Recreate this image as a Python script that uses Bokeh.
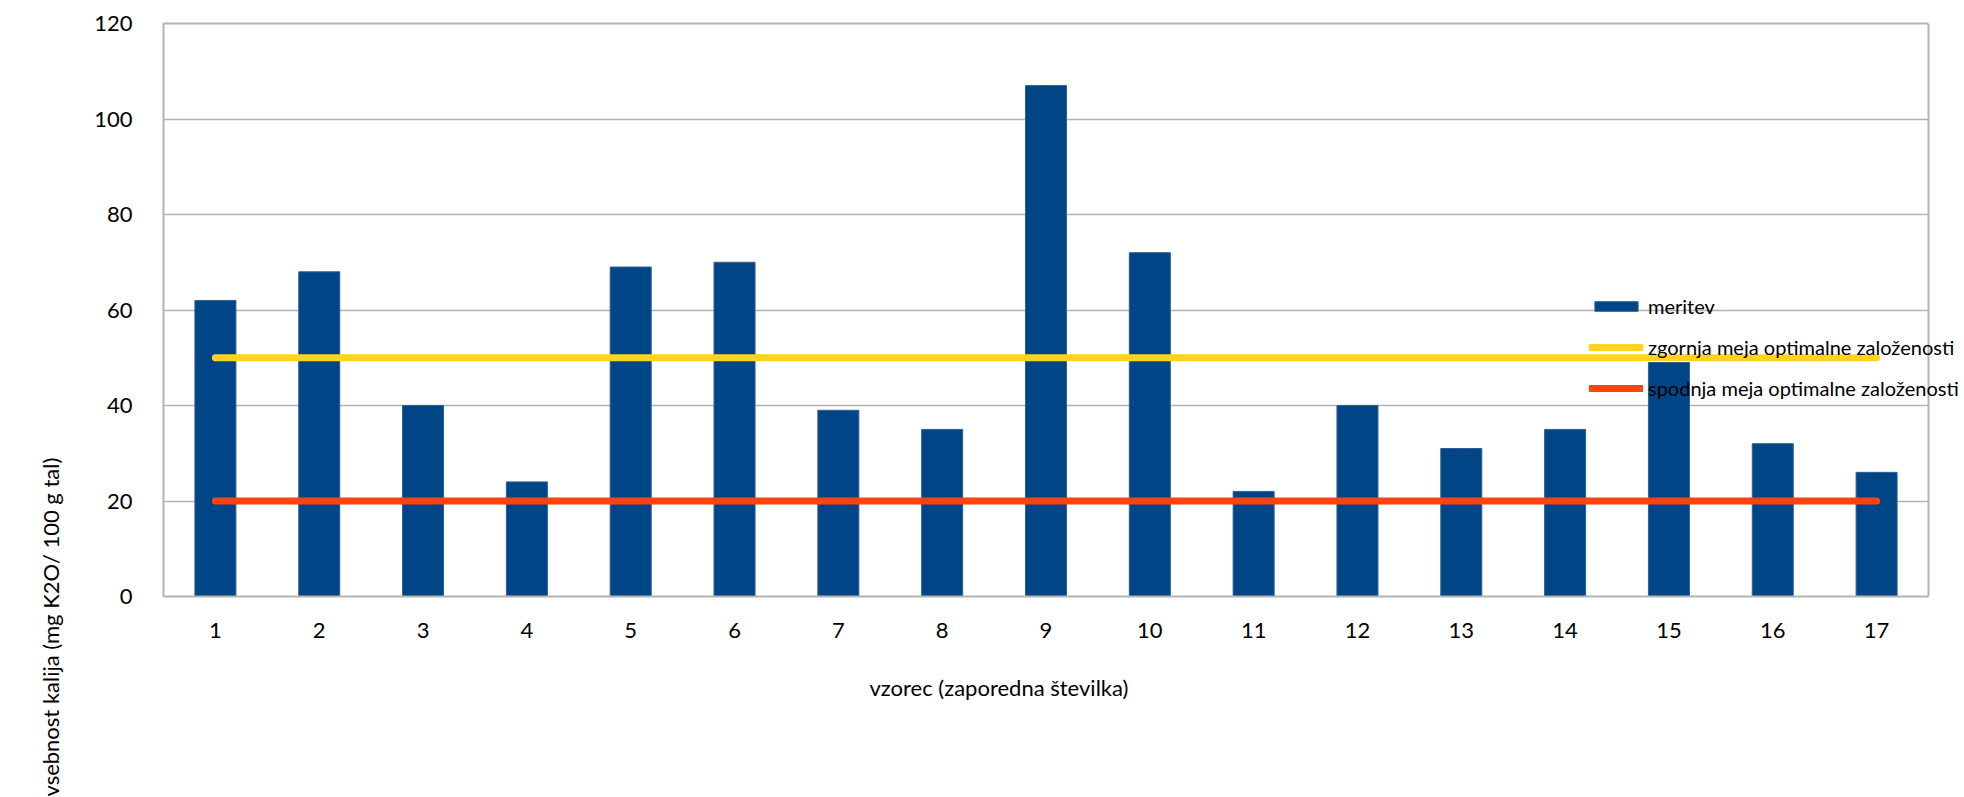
from bokeh.plotting import figure
from bokeh.models import (ColumnDataSource, Range1d, SingleIntervalTicker, FixedTicker,
                          LinearAxis, Legend, LegendItem, Span, Title)
from bokeh.embed import file_html
from bokeh.resources import INLINE

# Sample numbers and measured potassium content (mg K2O / 100 g soil)
samples = [1, 2, 3, 4, 5, 6, 7, 8, 9, 10, 11, 12, 13, 14, 15, 16, 17]
meritev = [62, 68, 40, 24, 69, 70, 39, 35, 107, 72, 22, 40, 31, 35, 49, 32, 26]
# Upper and lower limit of optimal supply
zgornja = [50, 50, 50, 50, 50, 50, 50, 50, 50, 50, 50, 50, 50, 50, 50, 50, 50]
spodnja = [20, 20, 20, 20, 20, 20, 20, 20, 20, 20, 20, 20, 20, 20, 20, 20, 20]
series_names = ["meritev", "zgornja meja optimalne založenosti",
                "spodnja meja optimalne založenosti"]
x_title = "vzorec (zaporedna številka)"
y_title = "vsebnost kalija (mg K2O/ 100 g tal)"
y_ticks_step = 20

FONT = "Lato"
BLUE = "#004586"
YELLOW = "#ffd320"
ORANGE = "#ff420e"
GRID = "#b3b3b3"

LEFT, TOP, BOTTOM, W, H = 163, 23, 201, 1964, 797
PLOT_RIGHT = 1928                      # right edge of the boxed plot area
unit = (PLOT_RIGHT - LEFT) / len(samples)
x_lo = samples[0] - 0.5
x_hi = samples[-1] + 0.5
# the frame runs on to the page edge so the legend captions are not clipped
x_end = x_hi + (W - PLOT_RIGHT) / unit

src = ColumnDataSource(dict(x=samples, meritev=meritev, zgornja=zgornja, spodnja=spodnja))

p = figure(width=W, height=H, output_backend="svg", toolbar_location=None,
           x_range=Range1d(x_lo, x_end), y_range=Range1d(0, 120),
           min_border_left=LEFT, min_border_right=0, min_border_top=TOP,
           min_border_bottom=BOTTOM)
p.outline_line_color = None
p.background_fill_color = "white"
p.border_fill_color = "white"

bars = p.vbar(x="x", top="meritev", width=0.395, source=src, fill_color=BLUE,
              line_color="#2f5f93", line_width=1)
up = p.line(x="x", y="zgornja", source=src, line_color=YELLOW, line_width=7, line_cap="round")
lo = p.line(x="x", y="spodnja", source=src, line_color=ORANGE, line_width=7, line_cap="round")

# axes
p.xaxis.ticker = FixedTicker(ticks=samples)
p.xaxis.bounds = (x_lo, x_hi)
p.yaxis.ticker = SingleIntervalTicker(interval=y_ticks_step)
for ax in (p.xaxis[0], p.yaxis[0]):
    ax.axis_line_color = GRID
    ax.axis_line_width = 2
    ax.major_tick_line_color = None
    ax.minor_tick_line_color = None
    ax.major_tick_out = 0
    ax.major_tick_in = 0
    ax.major_label_text_font = FONT
    ax.major_label_text_font_size = "22px"
    ax.major_label_text_color = "#000000"
p.yaxis.major_label_standoff = 27
p.xaxis.major_label_standoff = 26

# top and right edges of the plot box
top_axis = LinearAxis(ticker=FixedTicker(ticks=[]), bounds=(x_lo, x_hi),
                      axis_line_color=GRID, axis_line_width=2,
                      major_tick_line_color=None, minor_tick_line_color=None,
                      major_label_text_font_size="0px", major_tick_out=0, major_tick_in=0)
p.add_layout(top_axis, "above")
p.add_layout(Span(location=x_hi, dimension="height", line_color=GRID, line_width=2))

p.xgrid.grid_line_color = None
p.ygrid.grid_line_color = GRID
p.ygrid.grid_line_width = 1.5
if "cross_bounds" in p.ygrid[0].properties():
    p.ygrid[0].cross_bounds = (x_lo, x_hi)

# axis titles
p.add_layout(Title(text=x_title, align="left", offset=706, standoff=62,
                   text_font=FONT, text_font_size="22px", text_font_style="normal",
                   text_color="#000000"), "below")
p.add_layout(Title(text=y_title, align="left", offset=-200, standoff=55,
                   text_font=FONT, text_font_size="22px", text_font_style="normal",
                   text_color="#000000"), "left")

legend = Legend(items=[LegendItem(label=n, renderers=[r])
                       for n, r in zip(series_names, [bars, up, lo])],
                location=(1426, 196), orientation="vertical",
                glyph_width=54, glyph_height=12, label_height=12, spacing=17,
                label_standoff=5, padding=0, margin=0,
                border_line_color=None, background_fill_alpha=0,
                label_text_font=FONT, label_text_font_size="20px",
                label_text_baseline="middle", label_text_color="#000000")
p.add_layout(legend)

open("out.html", "w").write(file_html(p, INLINE))
